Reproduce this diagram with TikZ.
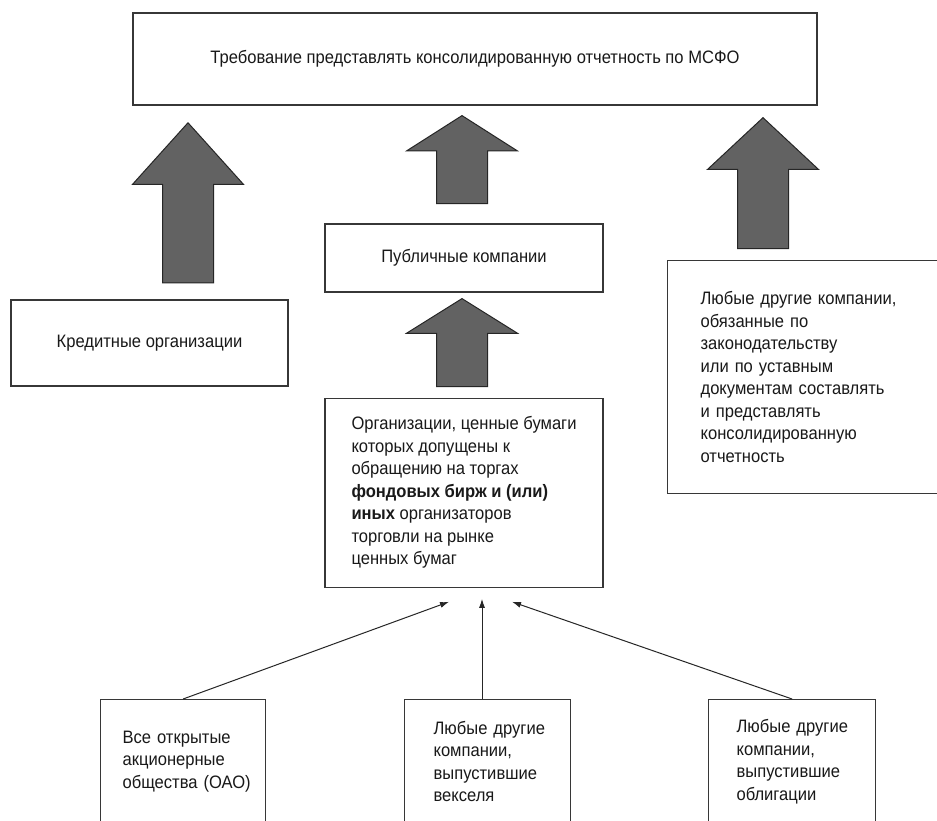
\documentclass[tikz,border=0pt]{standalone}
\usepackage{fontspec}
\setmainfont{Liberation Sans}[FakeStretch=0.92]
\usepackage{tikz}
\usetikzlibrary{shapes.arrows,arrows.meta,positioning,calc}
\definecolor{boxline}{RGB}{55, 55, 55}
\definecolor{arrowfill}{RGB}{98, 98, 98}
\tikzstyle{blk} = [rectangle, draw=boxline, line width=1.2pt, fill=white, text=black!90, font=\fontsize{18}{22.5}\selectfont, inner sep=0pt]
\tikzstyle{blkl} = [blk, align=left, anchor=north west]
\tikzstyle{bigarrow} = [single arrow, draw=black!85, fill=arrowfill, line width=1pt, rotate=90, anchor=tip, minimum width=110pt, single arrow head extend=30pt, inner xsep=0pt, inner ysep=25pt]
\tikzstyle{tedge}  = [draw, line width=1pt, color=black!85, >={Latex[length=9pt, width=6pt]}, ->]

\begin{document}
\begin{tikzpicture}[x=1pt, y=-1pt]

\fill[white] (0,0) rectangle (937,820);
\useasboundingbox (0,0) rectangle (937,820);

% boxes =============================

% top
\node[blk, minimum width=684pt, minimum height=92pt] (msfo) at (475,59) {Требование представлять консолидированную отчетность по МСФО};

% middle row
\node[blk, minimum width=277pt, minimum height=86pt] (kred) at (149.5,343) {Кредитные организации};
\node[blk, minimum width=278pt, minimum height=68pt] (pub) at (464,258) {Публичные компании};
\node[blkl, minimum width=278pt, minimum height=189pt, anchor=north, below=105pt of pub] (org) {Организации, ценные бумаги\\
которых допущены к\\
обращению на торгах\\
\textbf{фондовых бирж и (или)}\\
\textbf{иных} организаторов\\
торговли на рынке\\
ценных бумаг};
\node[blkl, inner xsep=33pt, text width=212pt, minimum height=233pt] (other) at (667,260) {Любые другие компании,\\
обязанные по\\
законодательству\\
или по уставным\\
документам составлять\\
и представлять\\
консолидированную\\
отчетность};

% bottom row
\node[blkl, inner xsep=22pt, text width=121pt, minimum height=124pt] (oao) at (100,699) {Все~открытые\\
акционерные\\
общества~(ОАО)};
\node[blkl, inner xsep=29pt, text width=108pt, minimum height=124pt] (veks) at (404,699) {Любые~другие\\
компании,\\
выпустившие\\
векселя};
\node[blkl, inner xsep=28pt, text width=111pt, minimum height=124pt] (obl) at (708,699) {Любые~другие\\
компании,\\
выпустившие\\
облигации};

% block arrows =============================
\node[bigarrow, minimum height=160pt, single arrow tip angle=84] (up1) at (188,122) {};
\node[bigarrow, minimum height=88pt, single arrow tip angle=115] (up2) at (462,115) {};
\node[bigarrow, minimum height=131pt, single arrow tip angle=94] (up3) at (763,117) {};
\node[bigarrow, minimum height=88pt, single arrow tip angle=116] (up4) at (462,298) {};

%edges
\coordinate (in1) at ($(org.south)+(-15,14)$);
\coordinate (in2) at ($(org.south)+(18,11)$);
\coordinate (in3) at ($(org.south)+(48,14)$);

\path[tedge] (oao.north) -- (in1);
\path[tedge] (in2 |- veks.north) -- (in2);
\path[tedge] (obl.north) -- (in3);

\end{tikzpicture}
\end{document}
